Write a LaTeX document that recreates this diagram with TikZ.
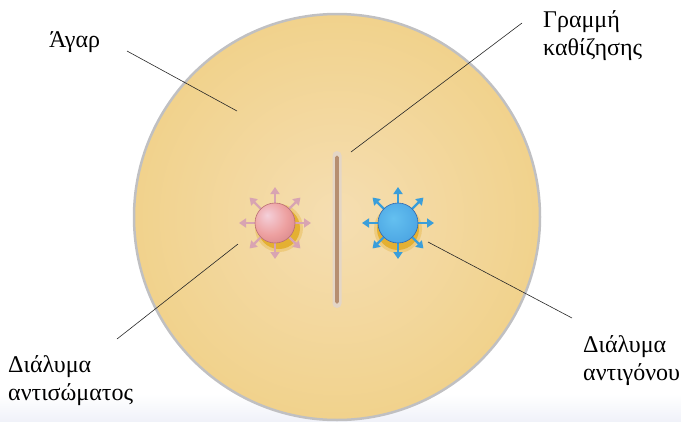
\documentclass[tikz,border=0pt]{standalone}
\usepackage{fontspec}
\setmainfont{Liberation Serif}
\usetikzlibrary{arrows.meta,positioning}
\usepackage{xcolor}
\definecolor{agar}{RGB}{241,210,140}
\definecolor{agarlight}{RGB}{245,222,178}
\definecolor{dishrim}{RGB}{192,192,194}
\definecolor{halo}{RGB}{228,176,50}
\definecolor{pinkhi}{RGB}{244,208,218}
\definecolor{pinkmid}{RGB}{237,160,160}
\definecolor{pinkedge}{RGB}{206,122,126}
\definecolor{pinkarrow}{RGB}{216,164,178}
\definecolor{bluehi}{RGB}{100,192,240}
\definecolor{bluemid}{RGB}{78,168,228}
\definecolor{blueedge}{RGB}{56,116,192}
\definecolor{bluearrow}{RGB}{58,158,218}
\definecolor{striphalo}{RGB}{228,214,198}
\definecolor{stripcore}{RGB}{182,142,112}
\definecolor{floorblue}{RGB}{240,242,249}

% sphere shadings, light spot up and to the left
\pgfdeclareradialshading{pinkball}{\pgfpoint{-10bp}{10bp}}{color(0bp)=(pinkhi); color(22bp)=(pinkmid); color(44bp)=(pinkedge); color(70bp)=(pinkedge)}
\pgfdeclareradialshading{blueball}{\pgfpoint{-6bp}{6bp}}{color(0bp)=(bluehi); color(28bp)=(bluemid); color(48bp)=(blueedge); color(70bp)=(blueedge)}
\pgfdeclareverticalshading{sediment}{100bp}{color(0bp)=(striphalo); color(14bp)=(stripcore); color(86bp)=(stripcore); color(100bp)=(striphalo)}

\begin{document}
\begin{tikzpicture}[
    x=1pt, y=-1pt,
    tag/.style={inner sep=0pt, align=left, anchor=base west, font=\fontsize{24}{28}\selectfont},
    leader/.style={draw=black!85, line width=0.6pt},
    well/.style={circle, minimum size=40pt, inner sep=0pt},
    pinkarr/.style={pinkarrow, line width=2.4pt, -{Triangle[width=9pt,length=7pt]}},
    bluearr/.style={bluearrow, line width=2.4pt, -{Triangle[width=9pt,length=7pt]}}
]
    \useasboundingbox (0,0) rectangle (681,421);

    % pale floor under the dish
    \fill[top color=white, bottom color=floorblue] (0,394) rectangle (681,421);

    % agar plate
    \node[circle, minimum size=406pt, inner sep=0pt, draw=dishrim, line width=2.5pt,
          inner color=agarlight, outer color=agar] (dish) at (337,217) {};

    % precipitation line
    \node[rectangle, rounded corners=4.5pt, minimum width=9pt, minimum height=157pt,
          inner sep=0pt, fill=striphalo] (strip) at (337,229.5) {};
    \node[rectangle, rounded corners=1.5pt, minimum width=3.5pt, minimum height=148pt,
          inner sep=0pt, shading=sediment] at (strip.center) {};

    % wells: yellow rim, arrows, then the drop
    \fill[halo, opacity=0.35] (279,228) circle (24pt);
    \fill[halo] (279,228) circle (21pt);
    \fill[halo, opacity=0.35] (398,229) circle (24pt);
    \fill[halo] (398,229) circle (21pt);

    \foreach \a in {0,45,...,315} {
        \draw[pinkarr] (275,223) ++(\a:14) -- ++(\a:22);
        \draw[bluearr] (398,223) ++(\a:14) -- ++(\a:22);
    }

    \node[well, shading=pinkball, draw=pinkedge!90!black, line width=0.6pt] (antibody) at (275,223) {};
    \node[well, shading=blueball, draw=blueedge!90!black, line width=0.6pt] (antigen) at (398,223) {};

    % labels (base anchor sits on the last line)
    \node[tag] (agartext) at (49,47) {Άγαρ};
    \node[tag] (linetext) at (543,55) {Γραμμή\\καθίζησης};
    \node[tag] (abtext) at (8,400) {Διάλυμα\\αντισώματος};
    \node[tag] (agtext) at (583,380) {Διάλυμα\\αντιγόνου};

    % leader line ends
    \coordinate (agarfrom) at (127,51);
    \coordinate (agarto) at (237,111);
    \coordinate (linefrom) at (522,23);
    \coordinate (lineto) at (351,152);
    \coordinate (abfrom) at (117,339);
    \coordinate (abto) at (238,244);
    \coordinate (agfrom) at (572,318);
    \coordinate (agto) at (428,242);

    \draw[leader] (agarfrom) -- (agarto);
    \draw[leader] (linefrom) -- (lineto);
    \draw[leader] (abfrom) -- (abto);
    \draw[leader] (agfrom) -- (agto);
\end{tikzpicture}
\end{document}
